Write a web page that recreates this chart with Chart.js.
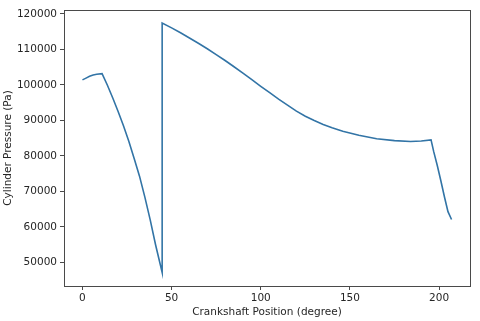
<!DOCTYPE html>
<html>
<head>
<meta charset="utf-8">
<script src="https://cdn.jsdelivr.net/npm/chart.js@4"></script>
<style>
html,body{margin:0;padding:0;background:#fff;}
#wrap{width:480px;height:321px;}
</style>
</head>
<body>
<div id="wrap"><canvas id="c" width="480" height="321"></canvas></div>
<script>
// Crankshaft angle (degree)
const angle = [0, 2, 4, 6, 8, 11, 14, 17, 20, 23, 26, 29, 32, 35, 38, 41, 44.7,
  44.7, 50, 55, 60, 65, 70, 75, 80, 85, 90, 95, 100, 105, 110, 115, 120, 125, 130, 135, 140, 146, 155, 165, 175, 184, 190, 195.5,
  197, 199, 201, 203, 205, 207];
// Cylinder pressure (Pa)
const pressure = [101400, 101900, 102400, 102750, 103000, 103150, 99900, 96300, 92500, 88500, 84100, 79300, 74300, 68400, 62000, 55000, 47200,
  117400, 116050, 114650, 113200, 111700, 110150, 108500, 106850, 105100, 103300, 101450, 99600, 97800, 96000, 94300, 92600, 91150, 89950, 88850, 87900, 86950, 85800, 84850, 84300, 84050, 84200, 84500,
  81200, 77300, 73000, 68500, 64300, 62100];
const xTicks = [0, 50, 100, 150, 200];
const yTicks = [50000, 60000, 70000, 80000, 90000, 100000, 110000, 120000];
const xTitle = 'Crankshaft Position (degree)';
const yTitle = 'Cylinder Pressure (Pa)';

const pts = angle.map((a, i) => ({x: a, y: pressure[i]}));
const font = {family: 'DejaVu Sans', size: 10.5};
const txt = '#262626';

const frame = {
  id: 'frame',
  afterDraw(chart) {
    const {ctx, chartArea: a} = chart;
    ctx.save();
    ctx.strokeStyle = '#4a4a4a';
    ctx.lineWidth = 1;
    ctx.strokeRect(Math.round(a.left) + 0.5, Math.round(a.top) + 0.5,
      Math.round(a.right - a.left), Math.round(a.bottom - a.top));
    ctx.restore();
  }
};

new Chart(document.getElementById('c'), {
  type: 'line',
  data: {datasets: [{data: pts, borderColor: '#3274a6', borderWidth: 1.6,
    pointRadius: 0, tension: 0, fill: false}]},
  options: {
    responsive: false, animation: false, devicePixelRatio: 1,
    layout: {padding: {left: 0, right: 10, top: 10, bottom: 0}},
    plugins: {legend: {display: false}, tooltip: {enabled: false}},
    scales: {
      x: {
        type: 'linear', min: -10.35, max: 217.35,
        afterBuildTicks: s => { s.ticks = xTicks.map(v => ({value: v})); },
        afterFit: s => { s.height = 35; },
        grid: {drawOnChartArea: false, drawTicks: true, tickLength: 4, color: '#4a4a4a'},
        border: {display: false},
        ticks: {font, color: txt, padding: 2, maxRotation: 0},
        title: {display: true, text: xTitle, font, color: txt, padding: {top: 2, bottom: 2}}
      },
      y: {
        type: 'linear', min: 43390, max: 121070,
        afterBuildTicks: s => { s.ticks = yTicks.map(v => ({value: v})); },
        afterFit: s => { s.width = 64; },
        grid: {drawOnChartArea: false, drawTicks: true, tickLength: 4, color: '#4a4a4a'},
        border: {display: false},
        ticks: {font, color: txt, padding: 3, callback: v => String(v)},
        title: {display: true, text: yTitle, font, color: txt, padding: {top: 2, bottom: 2}}
      }
    }
  },
  plugins: [frame]
});
</script>
</body>
</html>
